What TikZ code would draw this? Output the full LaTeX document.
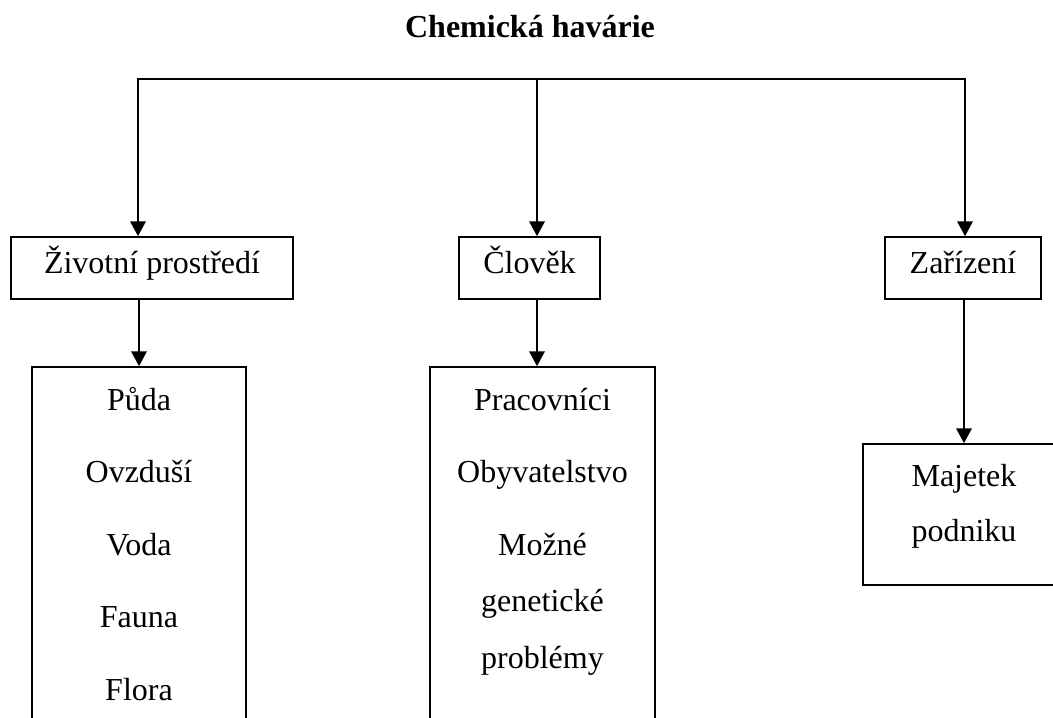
\documentclass[tikz,border=0pt]{standalone}
\usepackage{fontspec}
\setmainfont{Liberation Serif}
\usetikzlibrary{arrows.meta}
\begin{document}
\begin{tikzpicture}[
  font=\fontsize{22.76}{27}\selectfont,
  box/.style={draw, rectangle, line width=1.2pt, inner sep=0pt,
              text height=0.85em, text depth=0.05em},
  item/.style={anchor=base, inner sep=0pt},
  arr/.style={-{Triangle[length=10.5pt, width=11pt]}, line width=1.2pt},
  bar/.style={line width=1.4pt, line cap=rect}
]
  \useasboundingbox (0,0) rectangle (26.325,-17.925);
  \clip (0,0) rectangle (26.325,-17.925);

  \node[item, font=\fontsize{22.76}{27}\selectfont\bfseries] (ttl)
    at (13.25,-0.9425) {Chemická havárie};

  %% second level
  \node[box, minimum width=7.05cm, minimum height=1.55cm] (env)
    at (3.8,-6.7) {Životní prostředí};
  \node[box, minimum width=3.525cm, minimum height=1.55cm] (clo)
    at (13.2375,-6.7) {Člověk};
  \node[box, minimum width=3.9cm, minimum height=1.55cm] (zar)
    at (24.075,-6.7) {Zařízení};

  %% third level frames
  \node[box, minimum width=5.35cm, minimum height=10cm] (envList)
    at (3.475,-14.175) {};
  \node[box, minimum width=5.625cm, minimum height=10cm] (cloList)
    at (13.5625,-14.175) {};
  \node[box, minimum width=5.05cm, minimum height=3.525cm] (zarList)
    at (24.1,-12.8625) {};

  %% items
  \node[item] (pu) at (3.475,-10.25)   {Půda};
  \node[item] (ov) at (3.475,-12.0625) {Ovzduší};
  \node[item] (vo) at (3.475,-13.875)  {Voda};
  \node[item] (fa) at (3.475,-15.6875) {Fauna};
  \node[item] (fl) at (3.475,-17.5)    {Flora};

  \node[item] (pr) at (13.5625,-10.25)   {Pracovníci};
  \node[item] (ob) at (13.5625,-12.0625) {Obyvatelstvo};
  \node[item] (mo) at (13.5625,-13.875)  {Možné};
  \node[item] (ge) at (13.5625,-15.29)   {genetické};
  \node[item] (pb) at (13.5625,-16.7)    {problémy};

  \node[item] (ma) at (24.1,-12.15) {Majetek};
  \node[item] (po) at (24.1,-13.54) {podniku};

  %% top bar
  \coordinate (barL) at (3.45,-1.975);
  \coordinate (barC) at (13.425,-1.975);
  \coordinate (barR) at (24.125,-1.975);
  \draw[bar] (barL) -- (barR);

  \draw[arr] (barL) -- (barL |- env.north);
  \draw[arr] (barC) -- (barC |- clo.north);
  \draw[arr] (barR) -- (barR |- zar.north);

  \draw[arr] (envList.north |- env.south) -- (envList.north);
  \draw[arr] (barC |- clo.south) -- (barC |- cloList.north);
  \draw[arr] (zarList.north |- zar.south) -- (zarList.north);
\end{tikzpicture}
\end{document}
